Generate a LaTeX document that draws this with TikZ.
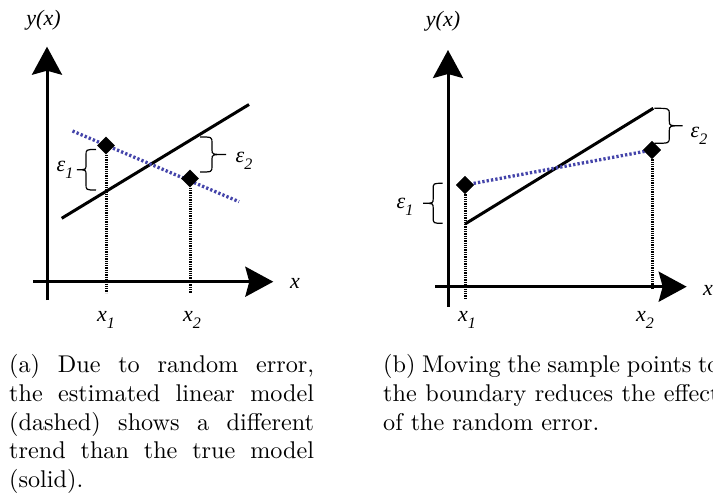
\documentclass[tikz,border=0pt]{standalone}
\usepackage{fontspec}
\newfontfamily\tnr{Liberation Serif}
\usetikzlibrary{arrows.meta,shapes.geometric}
\definecolor{estblue}{RGB}{68,68,170}
\newcommand\lsub[1]{\raisebox{-0.32em}{\fontsize{16}{16}\selectfont #1}}
% #1 x of ends, #2 top y, #3 bottom y, #4 direction (1 right, -1 left), #5 depth to stem, #6 tip length
\newcommand\Brace[6]{%
  \pgfmathsetmacro\bym{(#2+#3)/2}%
  \pgfmathsetmacro\bxv{#1+#4*#5}%
  \pgfmathsetmacro\bxt{#1+#4*(#5+#6)}%
  \draw[bracestyle] (#1,#2) .. controls (\bxv,#2) .. (\bxv,#2+6)
    -- (\bxv,\bym-5) .. controls (\bxv,\bym) .. (\bxt,\bym)
    .. controls (\bxv,\bym) .. (\bxv,\bym+5)
    -- (\bxv,#3-6) .. controls (\bxv,#3) .. (#1,#3);}
\tikzset{
  axis/.style={line width=3pt, -{Stealth[length=28pt,width=30pt,inset=4pt]}},
  trueline/.style={line width=3pt, black},
  estline/.style={line width=3.3pt, estblue, dash pattern=on 2.3pt off 2.1pt},
  dropline/.style={line width=3pt, black, dash pattern=on 1.3pt off 1pt},
  diam/.style={diamond, fill=black, draw=none, inner sep=0pt, minimum width=18pt, minimum height=18pt},
  lab/.style={font=\tnr\itshape\fontsize{22}{22}\selectfont, inner sep=0pt},
  bracestyle/.style={line width=1.2pt, black},
  capt/.style={inner sep=0pt, anchor=base west}
}
\begin{document}
\begin{tikzpicture}[x=1pt, y=-1pt]
\useasboundingbox (0,0) rectangle (713,495);

% ---------------- panel (a) ----------------
\coordinate (ya0) at (47,300);
\coordinate (ya1) at (47,46.7);
\coordinate (xa0) at (33,281.7);
\coordinate (xa1) at (273.3,281.7);
\draw[axis] (ya0) -- (ya1);
\draw[axis] (xa0) -- (xa1);
\node[lab] (yla) at (43.5,20) {y(x)};
\node[lab] (xla) at (295,283) {x};
\node[lab] (x1la) at (106,320) {x\lsub{1}};
\node[lab] (x2la) at (192,320) {x\lsub{2}};

\coordinate (ta0) at (61.7,218.3);
\coordinate (ta1) at (249,104.5);
\draw[trueline] (ta0) -- (ta1);
\coordinate (ea0) at (72.5,131);
\coordinate (ea1) at (239,201.7);
\draw[estline] (ea0) -- (ea1);

\node[diam] (d1a) at (106,145.5) {};
\node[diam] (d2a) at (190,178.5) {};
\coordinate (f1a) at (106,292.7);
\coordinate (f2a) at (190,292.7);
\draw[dropline] (d1a.south) -- (f1a);
\draw[dropline] (d2a.south) -- (f2a);

\Brace{96}{149.5}{190}{-1}{10}{9}
\Brace{200}{137}{172}{1}{12}{14}
\node[lab] (e1a) at (65,170) {ε\lsub{1}};
\node[lab] (e2a) at (244,161) {ε\lsub{2}};

% ---------------- panel (b) ----------------
\coordinate (yb0) at (448,306.7);
\coordinate (yb1) at (448,50);
\coordinate (xb0) at (435,286.7);
\coordinate (xb1) at (686.7,286.7);
\draw[axis] (yb0) -- (yb1);
\draw[axis] (xb0) -- (xb1);
\node[lab] (ylb) at (443,21) {y(x)};
\node[lab] (xlb) at (708,290) {x};
\node[lab] (x1lb) at (467,320) {x\lsub{1}};
\node[lab] (x2lb) at (645,320) {x\lsub{2}};

\coordinate (tb0) at (465,224);
\coordinate (tb1) at (653.3,108.3);
\draw[trueline] (tb0) -- (tb1);

\node[diam] (d1b) at (465,185) {};
\node[diam] (d2b) at (652,150) {};
\draw[estline] (d1b.center) -- (d2b.center);
\node[diam] at (d1b) {};
\node[diam] at (d2b) {};
\coordinate (f1b) at (465,298.3);
\coordinate (f2b) at (652,288.3);
\draw[dropline] (d1b.south) -- (f1b);
\draw[dropline] (d2b.south) -- (f2b);

\Brace{442.7}{183.3}{223.3}{-1}{9.5}{10}
\Brace{654.3}{108.3}{143.3}{1}{15}{13.4}
\node[lab] (e1b) at (405,207) {ε\lsub{1}};
\node[lab] (e2b) at (699,136) {ε\lsub{2}};

% ---------------- captions ----------------
\node[capt] (capa) at (9,372.5) {\scalebox{2.42}{\parbox[t]{126pt}{\fontsize{10}{11.9}\selectfont\hyphenpenalty=10000
(a) Due to random error,\linebreak the estimated linear model\linebreak (dashed) shows a different\linebreak trend than the true model\linebreak (solid).}}};
\node[capt] (capb) at (383,372.5) {\scalebox{2.42}{\parbox[t]{139pt}{\fontsize{10}{11.9}\selectfont\hyphenpenalty=10000
(b) Moving the sample points to\linebreak the boundary reduces the effect\linebreak of the random error.}}};
\end{tikzpicture}
\end{document}
